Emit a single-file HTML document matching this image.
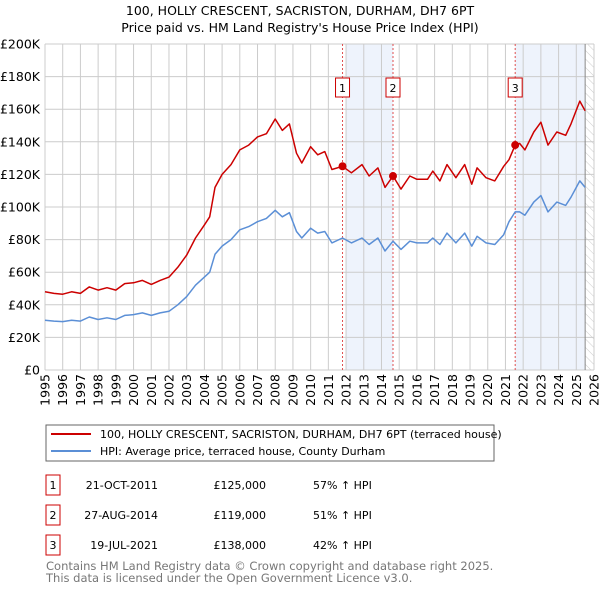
<!DOCTYPE html>
<html><head><meta charset="utf-8">
<style>
body{margin:0;background:#fff;}
svg{display:block;font-family:"DejaVu Sans","Liberation Sans",sans-serif;}
</style></head>
<body>
<svg id="chart" width="600" height="590" viewBox="0 0 600 590">
<text x="300" y="15" text-anchor="middle" font-size="12.5" fill="#000">100, HOLLY CRESCENT, SACRISTON, DURHAM, DH7 6PT</text>
<text x="300" y="32" text-anchor="middle" font-size="12.5" fill="#000">Price paid vs. HM Land Registry's House Price Index (HPI)</text>
<g id="plot"></g>
<g>
<rect x="46" y="425" width="448" height="36" fill="#fff" stroke="#666" stroke-width="1"/>
<line x1="51" y1="434" x2="91" y2="434" stroke="#cc0000" stroke-width="2"/>
<text x="100" y="438" font-size="11">100, HOLLY CRESCENT, SACRISTON, DURHAM, DH7 6PT (terraced house)</text>
<line x1="51" y1="451" x2="91" y2="451" stroke="#5b8fd6" stroke-width="2"/>
<text x="100" y="455" font-size="11">HPI: Average price, terraced house, County Durham</text>
</g>
<g id="table"></g>
<text x="46" y="570" font-size="11.5" fill="#777">Contains HM Land Registry data © Crown copyright and database right 2025.</text>
<text x="46" y="582" font-size="11.5" fill="#777">This data is licensed under the Open Government Licence v3.0.</text>
</svg>
<script>
const years=[1995,1995.5,1996,1996.5,1997,1997.5,1998,1998.5,1999,1999.5,2000,2000.5,2001,2001.5,2002,2002.5,2003,2003.5,2004,2004.3,2004.6,2005,2005.5,2006,2006.5,2007,2007.5,2008,2008.4,2008.8,2009.2,2009.5,2010,2010.4,2010.8,2011.2,2011.8,2012.3,2012.9,2013.3,2013.8,2014.2,2014.65,2015.1,2015.6,2016,2016.6,2016.9,2017.3,2017.7,2018.2,2018.7,2019.1,2019.4,2019.9,2020.4,2020.9,2021.2,2021.55,2021.8,2022.1,2022.6,2023,2023.4,2023.9,2024.4,2024.7,2025.2,2025.5];
const hpiValues=[30.5,30,29.7,30.5,30,32.5,31,32,31,33.5,34,35,33.5,35,36,40,45,52,57,60,71,76,80,86,88,91,93,98,94,96.5,85,81,87,84,85,78,81,78,81,77,81,73,79,74,79,78,78,81,77,84,78,84,76,82,78,77,83,91,97,97,95,103,107,97,103,101,106,116,112];
const priceValues=[48,47,46.5,48,47,51,49,50.5,49,53,53.5,55,52.5,55,57,63,70.5,81,89,94,112,120,126,135,138,143,145,154,147,151,133,127,137,132,134,123,125,121,126,119,124,112,119,111,119,117,117,122,116,126,118,126,114,124,118,116,125,129,138,139,135,146,152,138,146,144,151,165,159];
const yTicks=[0,20,40,60,80,100,120,140,160,180,200];
const yTickLabels=["£0","£20K","£40K","£60K","£80K","£100K","£120K","£140K","£160K","£180K","£200K"];
const xTicks=[1995,1996,1997,1998,1999,2000,2001,2002,2003,2004,2005,2006,2007,2008,2009,2010,2011,2012,2013,2014,2015,2016,2017,2018,2019,2020,2021,2022,2023,2024,2025,2026];
const saleLabels=["1","2","3"];
const saleYears=[2011.8,2014.65,2021.55];
const salePrices=[125,119,138];
const saleDates=["21-OCT-2011","27-AUG-2014","19-JUL-2021"];
const salePriceText=["£125,000","£119,000","£138,000"];
const saleHpiText=["57% ↑ HPI","51% ↑ HPI","42% ↑ HPI"];

const X0=45,X1=594,Y0=370,Y1=44;
const xs=y=>X0+(y-1995)/(2026-1995)*(X1-X0);
const ys=v=>Y0-v/200*(Y0-Y1);
const NS="http://www.w3.org/2000/svg";
const plot=document.getElementById('plot');
function mk(tag,attrs,parent){const e=document.createElementNS(NS,tag);for(const k in attrs)e.setAttribute(k,attrs[k]);(parent||plot).appendChild(e);return e;}

// shaded regions
let s=mk('rect',{x:xs(2012),y:Y1,width:xs(saleYears[1])-xs(2012),height:Y0-Y1,fill:'#eef3fc'});


s=mk('rect',{x:xs(saleYears[2]),y:Y1,width:xs(2025.5)-xs(saleYears[2]),height:Y0-Y1,fill:'#eef3fc'});


// hatch future
const defs=mk('defs',{});
const pat=mk('pattern',{id:'hatch',width:6,height:6,patternUnits:'userSpaceOnUse',patternTransform:'rotate(-45)'},defs);
mk('line',{x1:0,y1:0,x2:0,y2:6,stroke:'#ccc','stroke-width':1},pat);
s=mk('rect',{x:xs(2025.5),y:Y1,width:X1-xs(2025.5),height:Y0-Y1,fill:'url(#hatch)'});



// grid
yTicks.forEach((v,i)=>{
  const l=mk('line',{x1:X0,x2:X1,y1:ys(v),y2:ys(v),stroke:'#ccc','stroke-width':1});
  
  
  const t=mk('text',{x:40,y:ys(v)+4.5,'text-anchor':'end','font-size':12.5});
  t.textContent=yTickLabels[i];
  
  
});
xTicks.forEach(yr=>{
  const l=mk('line',{x1:xs(yr),x2:xs(yr),y1:Y1,y2:Y0,stroke:'#ccc','stroke-width':1});
  
  
  const t=mk('text',{x:0,y:0,'text-anchor':'end','font-size':12.5,transform:`translate(${xs(yr)+4.5},374) rotate(-90)`});
  t.textContent=yr;
  
  
});
const el=mk('line',{x1:xs(2025.5),x2:xs(2025.5),y1:Y1,y2:Y0,stroke:'#888','stroke-width':1});



// sale lines
saleYears.forEach((yr,i)=>{
  const l=mk('line',{x1:xs(yr),x2:xs(yr),y1:Y1,y2:Y0,stroke:'#e05050','stroke-width':1,'stroke-dasharray':'2,2'});
  
  
});

// series
function path(vals){return vals.map((v,i)=>(i?'L':'M')+xs(years[i]).toFixed(1)+','+ys(v).toFixed(1)).join('');}
const hp=mk('path',{d:path(hpiValues),fill:'none',stroke:'#5b8fd6','stroke-width':1.5,'stroke-linejoin':'round'});


const pp=mk('path',{d:path(priceValues),fill:'none',stroke:'#cc0000','stroke-width':1.5,'stroke-linejoin':'round'});



saleYears.forEach((yr,i)=>{
  const c=mk('circle',{cx:xs(yr),cy:ys(salePrices[i]),r:4,fill:'#cc0000'});
  
  
  const r=mk('rect',{x:xs(yr)-7,y:78,width:14,height:19,fill:'#fff',stroke:'#cc0000','stroke-width':1});
  
  
  const t=mk('text',{x:xs(yr),y:92,'text-anchor':'middle','font-size':11});
  t.textContent=saleLabels[i];
  
  
});

// table
const tb=document.getElementById('table');
saleLabels.forEach((lab,i)=>{
  const y0=475+i*30;
  const r=mk('rect',{x:46,y:y0,width:14,height:20,fill:'#fff',stroke:'#cc0000','stroke-width':1},tb);
  
  
  const vals=[[53,'middle',lab],[158,'end',saleDates[i]],[266,'end',salePriceText[i]],[313,'start',saleHpiText[i]]];
  vals.forEach(([x,a,txt],j)=>{
    const t=mk('text',{x:x,y:y0+14,'text-anchor':a,'font-size':11},tb);
    t.textContent=txt;
    
    
  });
});
</script>
</body></html>
